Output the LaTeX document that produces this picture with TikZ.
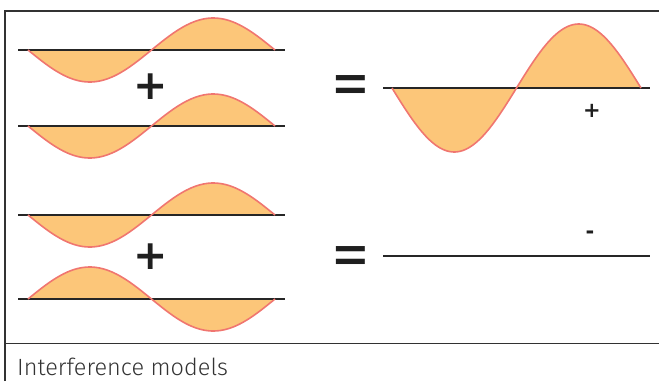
\documentclass[tikz,border=0pt]{standalone}
\usepackage{fontspec}
\newfontfamily\capfont{Fira Sans}[UprightFont=* Light]
\newfontfamily\symfont{DejaVu Sans}
\definecolor{wavefill}{RGB}{252,198,121}
\definecolor{wavestroke}{RGB}{240,118,112}
\definecolor{framegray}{RGB}{50,50,50}
\begin{document}
\begin{tikzpicture}[x=1pt,y=-1pt,
  frameline/.style={draw=framegray,line width=1.7pt},
  baseline/.style={draw=black!85,line width=1.2pt},
  wavearea/.style={fill=wavefill},
  waveline/.style={draw=wavestroke,line width=1.6pt},
  bigop/.style={inner sep=0pt,font=\symfont\bfseries\fontsize{41}{41}\selectfont,text=black!88},
  eqop/.style={inner sep=0pt,font=\symfont\fontsize{44}{44}\selectfont,text=black!88},
  smallop/.style={inner sep=0pt,font=\symfont\bfseries\fontsize{21}{21}\selectfont,text=black!88},
  captext/.style={inner sep=0pt,anchor=base west,font=\capfont\fontsize{23.5}{25}\selectfont,text=black!80}]
\useasboundingbox (0,0) rectangle (659,381);
% frame
\coordinate (fTL) at (5,11);
\coordinate (fTR) at (659,11);
\coordinate (fBL) at (5,381);
\coordinate (sL) at (5,343.5);
\coordinate (sR) at (659,343.5);
\draw[frameline] (fBL) -- (fTL) -- (fTR);
\draw[frameline] (sL) -- (sR);
% wave 1
\fill[wavearea] plot[domain=0:360,samples=90] ({28+0.686111*\x},{50+32*sin(\x)}) -- cycle;
\coordinate (b1l) at (18,50); \coordinate (b1r) at (285,50);
\draw[baseline] (b1l) -- (b1r);
\draw[waveline] plot[domain=0:360,samples=90] ({28+0.686111*\x},{50+32*sin(\x)});
% wave 2
\fill[wavearea] plot[domain=0:360,samples=90] ({28+0.686111*\x},{126+32*sin(\x)}) -- cycle;
\coordinate (b2l) at (18,126); \coordinate (b2r) at (285,126);
\draw[baseline] (b2l) -- (b2r);
\draw[waveline] plot[domain=0:360,samples=90] ({28+0.686111*\x},{126+32*sin(\x)});
% result wave
\fill[wavearea] plot[domain=0:360,samples=110] ({392+0.691667*\x},{88+64*sin(\x)}) -- cycle;
\coordinate (r1l) at (383,88); \coordinate (r1r) at (650,88);
\draw[baseline] (r1l) -- (r1r);
\draw[waveline] plot[domain=0:360,samples=110] ({392+0.691667*\x},{88+64*sin(\x)});
% wave 3
\fill[wavearea] plot[domain=0:360,samples=90] ({28+0.686111*\x},{215+32*sin(\x)}) -- cycle;
\coordinate (b3l) at (18,215); \coordinate (b3r) at (285,215);
\draw[baseline] (b3l) -- (b3r);
\draw[waveline] plot[domain=0:360,samples=90] ({28+0.686111*\x},{215+32*sin(\x)});
% wave 4
\fill[wavearea] plot[domain=0:360,samples=90] ({28+0.686111*\x},{299-32*sin(\x)}) -- cycle;
\coordinate (b4l) at (18,299); \coordinate (b4r) at (285,299);
\draw[baseline] (b4l) -- (b4r);
\draw[waveline] plot[domain=0:360,samples=90] ({28+0.686111*\x},{299-32*sin(\x)});
% flat result
\coordinate (r2l) at (383,256); \coordinate (r2r) at (650,256);
\draw[baseline] (r2l) -- (r2r);
% operators
\node[bigop] (plusA) at (151,87) {+};
\node[bigop] (plusB) at (151,257) {+};
\node[eqop] (eqA) at (351,90) {\scalebox{1.05}[1.45]{=}};
\node[eqop] (eqB) at (351,261) {\scalebox{1.05}[1.45]{=}};
\node[smallop] (sgnA) at (592,111) {+};
\node[smallop] (sgnB) at (590,235) {-};
% caption
\node[captext] (cap) at (17,375) {Interference models};
\end{tikzpicture}
\end{document}
